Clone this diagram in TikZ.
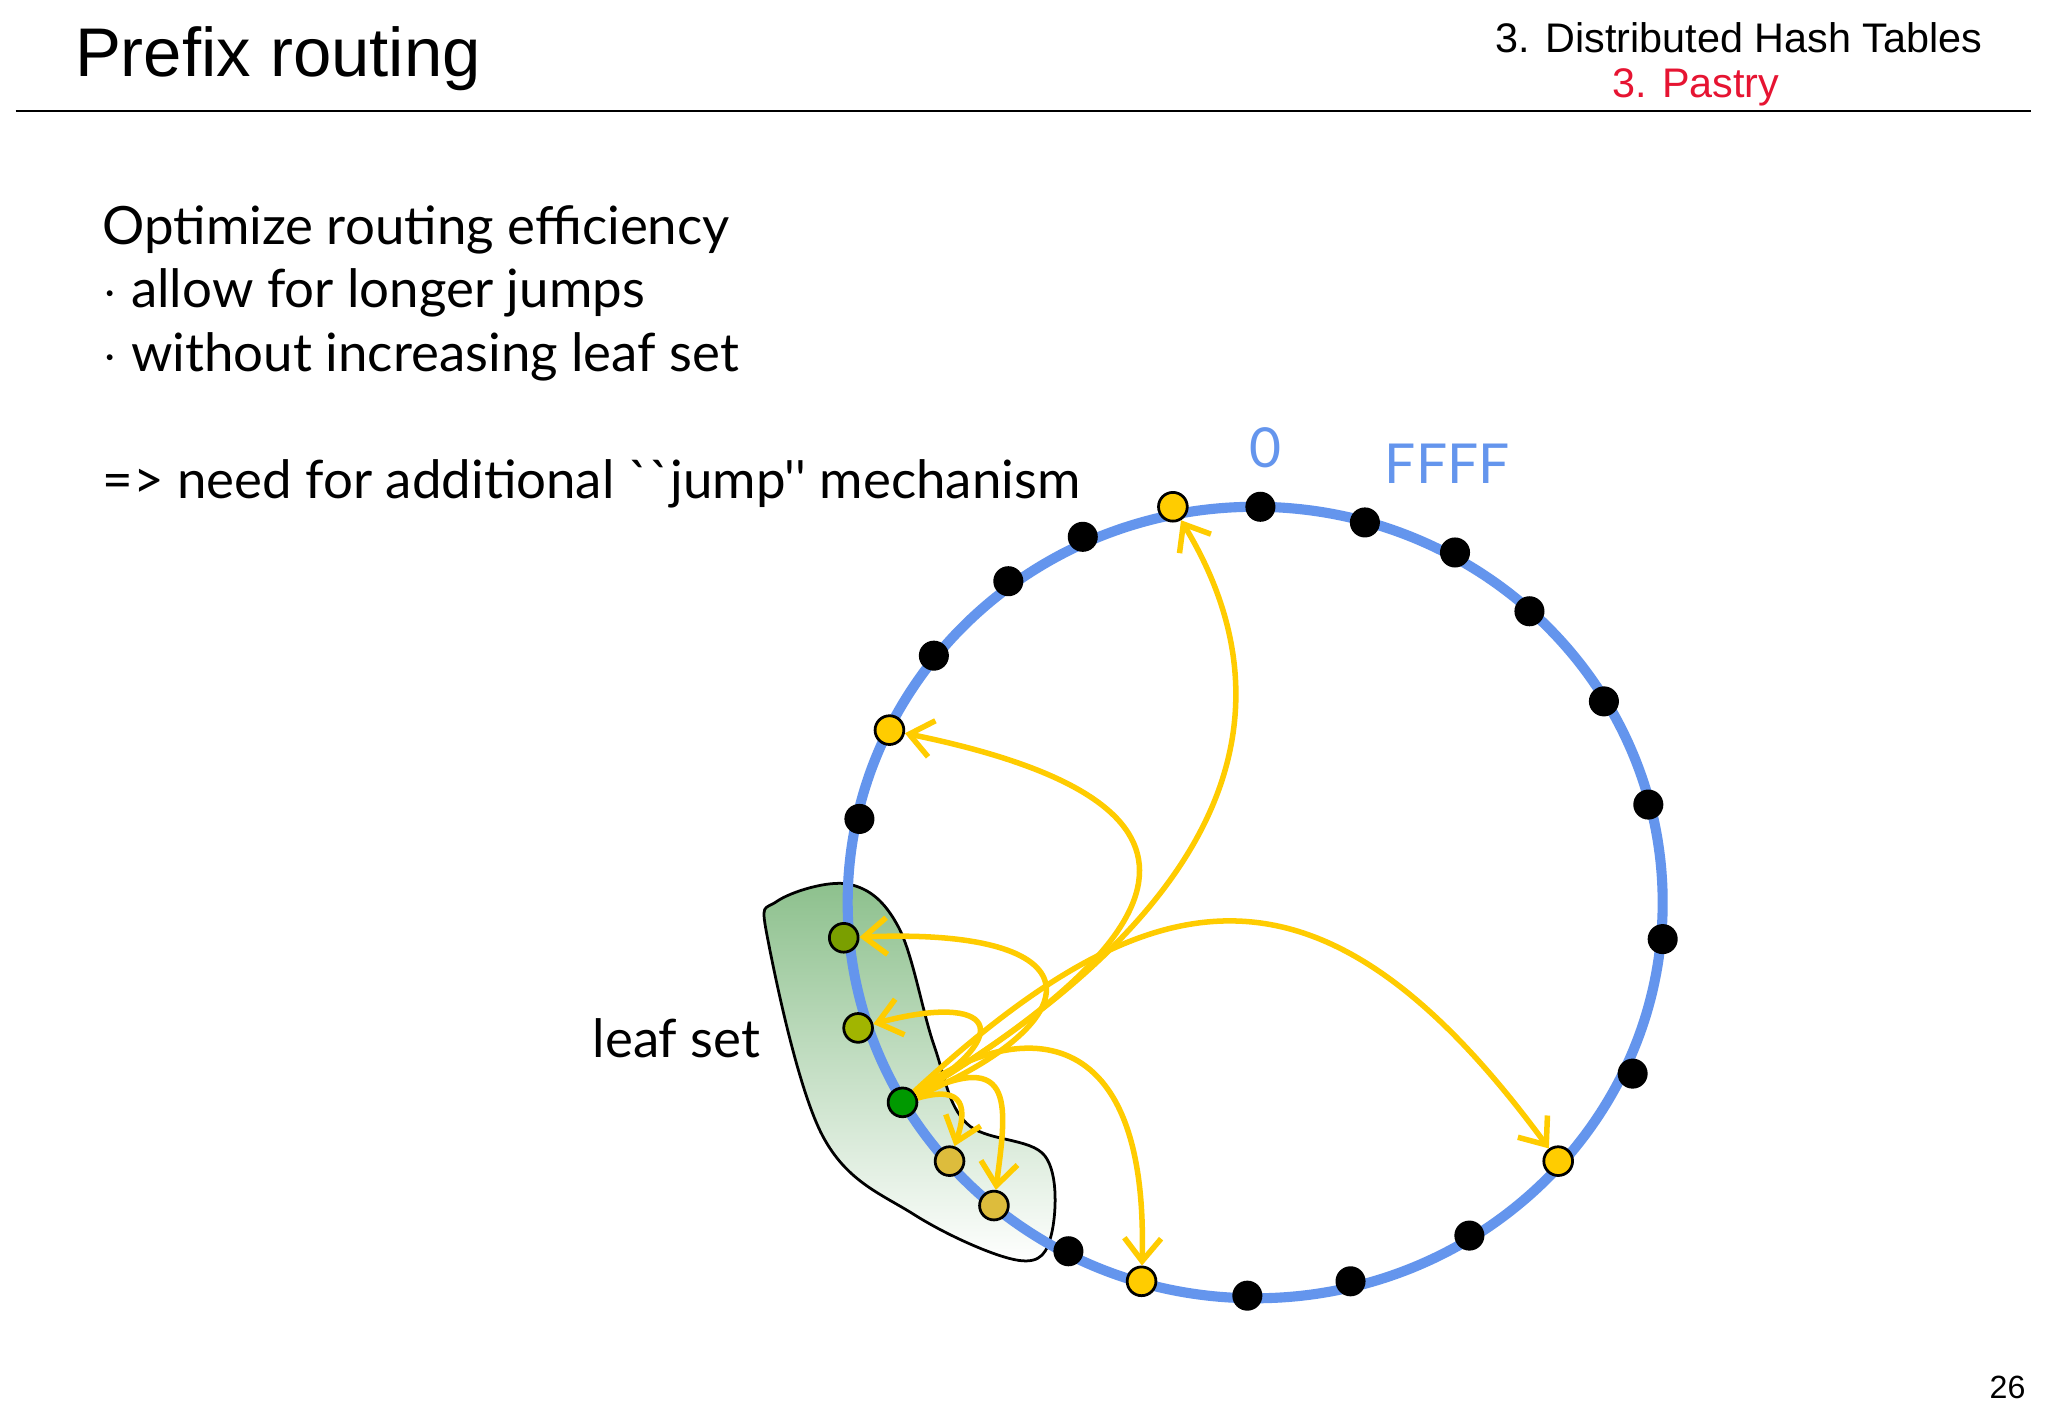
\documentclass[tikz,border=0pt]{standalone}
\usepackage{fontspec}
\setmainfont{Liberation Sans}
\newfontfamily\bodyfont{Lato}
\usetikzlibrary{arrows.meta}
\definecolor{ringblue}{RGB}{100,149,237}
\definecolor{jump}{RGB}{255,204,0}
\definecolor{pastryred}{RGB}{230,20,50}
\begin{document}
\begin{tikzpicture}[x=0.01cm,y=-0.01cm,
  blk/.style={circle,fill=black,inner sep=0pt,minimum size=0.23cm},
  ylw/.style={circle,fill=jump,draw=black,line width=0.6pt,inner sep=0pt,minimum size=0.22cm},
  jmp/.style={jump,line width=1.2pt,-{Straight Barb[length=5pt,width=8pt]}}]
\useasboundingbox (0,0) rectangle (1568,1085);
\fill[white] (0,0) rectangle (1568,1085);
\node[anchor=west,font=\fontsize{15}{18}\selectfont] (title) at (45,45) {Prefix routing};
\node[anchor=east,font=\fontsize{9}{11}\selectfont] (h1) at (1530,29) {3. Distributed Hash Tables};
\node[anchor=west,text=pastryred,font=\fontsize{9}{11}\selectfont] (h2) at (1222,67) {3. Pastry};
\draw[line width=0.5pt] (12,85) -- (1555,85);
\node[anchor=north west,align=left,font=\bodyfont\fontsize{11.5}{13.8}\selectfont] (txt) at (66,145)
 {Optimize routing efficiency\\ $\cdot$ allow for longer jumps\\ $\cdot$ without increasing leaf set\\[13.8pt] => need for additional ``jump'' mechanism};
\node[text=ringblue,font=\bodyfont\fontsize{12}{14}\selectfont] (zero) at (969,343) {0};
\node[text=ringblue,font=\bodyfont\fontsize{12}{14}\selectfont] (ffff) at (1108,355) {FFFF};
\node[font=\bodyfont\fontsize{11.5}{14}\selectfont] (leaf) at (518,795) {leaf set};
\node[font=\fontsize{7}{8}\selectfont] (pg) at (1537,1062) {26};
% leaf set blob
\draw[black,line width=0.6pt,top color=green!45!black!45,bottom color=white]
 plot[smooth cycle,tension=0.6] coordinates {(595,690) (650,677) (688,710) (715,800) (740,860) (800,885) (805,945) (780,965) (700,930) (630,870) (588,720)};
% ring
\draw[ringblue,line width=2.2pt] (961,691) ellipse (312 and 303);
% nodes
\foreach \x/\y [count=\i] in {965/388,1045/400,1114/423,1171/468,1228/537,1262/616,1273/719,1250/822,1125/946,1034/981,955/992,818/958,658/627,715/502,772/445,829/411}
  \node[blk] (b\i) at (\x,\y) {};
\node[ylw] (y1) at (898,388) {};
\node[ylw] (y2) at (681,559) {};
\node[ylw] (y3) at (1193,889) {};
\node[ylw] (y4) at (874,981) {};
\node[ylw,fill=green!45!black!40!yellow!80!black] (l1) at (646,718) {};
\node[ylw,fill=green!30!black!30!yellow!90!black] (l2) at (657,787) {};
\node[ylw,fill=green!60!black] (s) at (691,844) {};
\node[ylw,fill=jump!70!gray!90] (l3) at (727,889) {};
\node[ylw,fill=jump!70!gray!90] (l4) at (761,923) {};
% jumps
\draw[jmp] (s) .. controls (950,690) and (990,540) .. (y1);
\draw[jmp] (s) .. controls (930,700) and (930,610) .. (y2);
\draw[jmp] (s) .. controls (880,670) and (1010,640) .. (y3);
\draw[jmp] (s) .. controls (760,790) and (880,760) .. (y4);
\draw[jmp] (s) .. controls (840,780) and (840,710) .. (l1);
\draw[jmp] (s) .. controls (780,790) and (760,760) .. (l2);
\draw[jmp] (s) .. controls (740,830) and (740,850) .. (l3);
\draw[jmp] (s) .. controls (780,800) and (770,850) .. (l4);
\end{tikzpicture}
\end{document}
